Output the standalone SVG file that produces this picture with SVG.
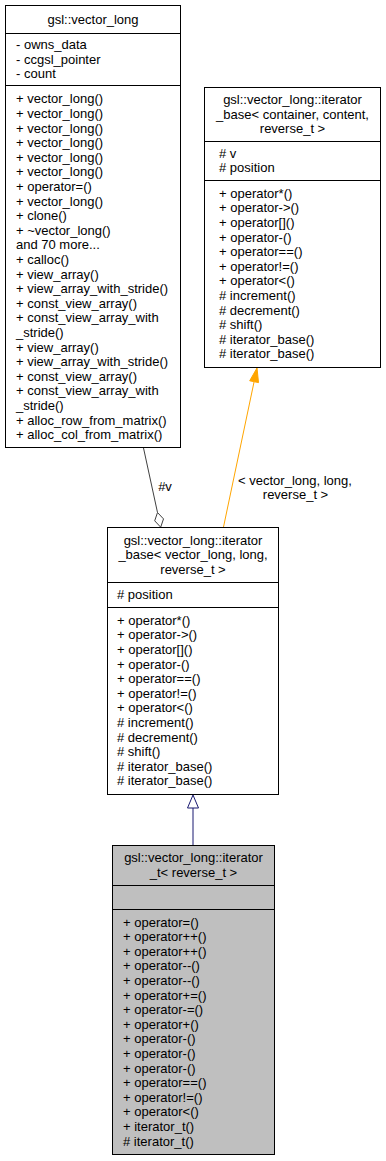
<svg xmlns="http://www.w3.org/2000/svg" width="386" height="1161" viewBox="0 0 386 1161">
<style>
text{font-family:"Liberation Sans",Arial,sans-serif;font-size:13px;fill:#000}
.c{text-anchor:middle}
.box{fill:#fff;stroke:#000;stroke-width:1}
.cur{fill:#bfbfbf;stroke:#000;stroke-width:1}
.sep{stroke:#000;stroke-width:1}
</style>
<rect width="386" height="1161" fill="#fff"/>
<g id="connectors">
<line x1="143.5" y1="448" x2="157.5" y2="512.5" stroke="#404040" stroke-width="1"/>
<polygon points="157.5,512.5 163.5,518.9 160.7,527.2 154.7,520.8" fill="#fff" stroke="#404040" stroke-width="1"/>
<text x="165" y="491" class="c">#v</text>
<line x1="223.5" y1="527" x2="254.1" y2="381.7" stroke="#ffa500" stroke-width="1"/>
<polygon points="257,368 258.5,382.6 249.7,380.8" fill="#ffa500" stroke="#ffa500" stroke-width="1"/>
<text x="295" y="484.5" class="c">&lt; vector_long, long,</text>
<text x="295.5" y="499" class="c">reverse_t &gt;</text>
<line x1="193" y1="808" x2="193" y2="845.5" stroke="#191970" stroke-width="1"/>
<polygon points="193,795 187.5,808 198.5,808" fill="#fff" stroke="#191970" stroke-width="1"/>
</g>
<g id="vector_long">
<rect class="box" x="5.5" y="5.5" width="175" height="442"/>
<line class="sep" x1="5.5" y1="33.5" x2="180.5" y2="33.5"/>
<line class="sep" x1="5.5" y1="85.5" x2="180.5" y2="85.5"/>
<text x="93" y="23.5" class="c">gsl::vector_long</text>
<text x="16" y="49">- owns_data</text>
<text x="16" y="63.5">- ccgsl_pointer</text>
<text x="16" y="78">- count</text>
<text x="16" y="103.3">+ vector_long()</text>
<text x="16" y="117.9">+ vector_long()</text>
<text x="16" y="132.5">+ vector_long()</text>
<text x="16" y="147.1">+ vector_long()</text>
<text x="16" y="161.7">+ vector_long()</text>
<text x="16" y="176.3">+ vector_long()</text>
<text x="16" y="190.9">+ operator=()</text>
<text x="16" y="205.5">+ vector_long()</text>
<text x="16" y="220.1">+ clone()</text>
<text x="16" y="234.7">+ ~vector_long()</text>
<text x="16" y="249.3">and 70 more...</text>
<text x="16" y="263.9">+ calloc()</text>
<text x="16" y="278.5">+ view_array()</text>
<text x="16" y="293.1">+ view_array_with_stride()</text>
<text x="16" y="307.7">+ const_view_array()</text>
<text x="16" y="322.3">+ const_view_array_with</text>
<text x="16" y="336.9">_stride()</text>
<text x="16" y="351.5">+ view_array()</text>
<text x="16" y="366.1">+ view_array_with_stride()</text>
<text x="16" y="380.7">+ const_view_array()</text>
<text x="16" y="395.3">+ const_view_array_with</text>
<text x="16" y="409.9">_stride()</text>
<text x="16" y="424.5">+ alloc_row_from_matrix()</text>
<text x="16" y="439.1">+ alloc_col_from_matrix()</text>
</g>
<g id="iterator_base_template">
<rect class="box" x="204.5" y="87.5" width="176" height="280"/>
<line class="sep" x1="204.5" y1="141.5" x2="380.5" y2="141.5"/>
<line class="sep" x1="204.5" y1="180.5" x2="380.5" y2="180.5"/>
<text x="292.5" y="104" class="c">gsl::vector_long::iterator</text>
<text x="292.5" y="118.5" class="c">_base&lt; container, content,</text>
<text x="292.5" y="133" class="c">reverse_t &gt;</text>
<text x="219" y="157.7"># v</text>
<text x="219" y="172.3"># position</text>
<text x="219" y="197.7">+ operator*()</text>
<text x="219" y="212.3">+ operator-&gt;()</text>
<text x="219" y="226.9">+ operator[]()</text>
<text x="219" y="241.5">+ operator-()</text>
<text x="219" y="256.1">+ operator==()</text>
<text x="219" y="270.7">+ operator!=()</text>
<text x="219" y="285.3">+ operator&lt;()</text>
<text x="219" y="299.9"># increment()</text>
<text x="219" y="314.5"># decrement()</text>
<text x="219" y="329.1"># shift()</text>
<text x="219" y="343.7"># iterator_base()</text>
<text x="219" y="358.3"># iterator_base()</text>
</g>
<g id="iterator_base_instance">
<rect class="box" x="107.5" y="527.5" width="171" height="267"/>
<line class="sep" x1="107.5" y1="582.5" x2="278.5" y2="582.5"/>
<line class="sep" x1="107.5" y1="607.5" x2="278.5" y2="607.5"/>
<text x="193" y="544.5" class="c">gsl::vector_long::iterator</text>
<text x="193" y="559" class="c">_base&lt; vector_long, long,</text>
<text x="193" y="573.5" class="c">reverse_t &gt;</text>
<text x="117" y="599"># position</text>
<text x="117" y="624.7">+ operator*()</text>
<text x="117" y="639.3">+ operator-&gt;()</text>
<text x="117" y="653.9">+ operator[]()</text>
<text x="117" y="668.5">+ operator-()</text>
<text x="117" y="683.1">+ operator==()</text>
<text x="117" y="697.7">+ operator!=()</text>
<text x="117" y="712.3">+ operator&lt;()</text>
<text x="117" y="726.9"># increment()</text>
<text x="117" y="741.5"># decrement()</text>
<text x="117" y="756.1"># shift()</text>
<text x="117" y="770.7"># iterator_base()</text>
<text x="117" y="785.3"># iterator_base()</text>
</g>
<g id="iterator_t">
<rect class="cur" x="112.5" y="845.5" width="162" height="309"/>
<line class="sep" x1="112.5" y1="885.5" x2="274.5" y2="885.5"/>
<line class="sep" x1="112.5" y1="909.5" x2="274.5" y2="909.5"/>
<text x="193.5" y="862" class="c">gsl::vector_long::iterator</text>
<text x="193.5" y="877" class="c">_t&lt; reverse_t &gt;</text>
<text x="123" y="926.5">+ operator=()</text>
<text x="123" y="941.1">+ operator++()</text>
<text x="123" y="955.7">+ operator++()</text>
<text x="123" y="970.3">+ operator--()</text>
<text x="123" y="984.9">+ operator--()</text>
<text x="123" y="999.5">+ operator+=()</text>
<text x="123" y="1014.1">+ operator-=()</text>
<text x="123" y="1028.7">+ operator+()</text>
<text x="123" y="1043.3">+ operator-()</text>
<text x="123" y="1057.9">+ operator-()</text>
<text x="123" y="1072.5">+ operator-()</text>
<text x="123" y="1087.1">+ operator==()</text>
<text x="123" y="1101.7">+ operator!=()</text>
<text x="123" y="1116.3">+ operator&lt;()</text>
<text x="123" y="1130.9">+ iterator_t()</text>
<text x="123" y="1145.5"># iterator_t()</text>
</g>
</svg>
